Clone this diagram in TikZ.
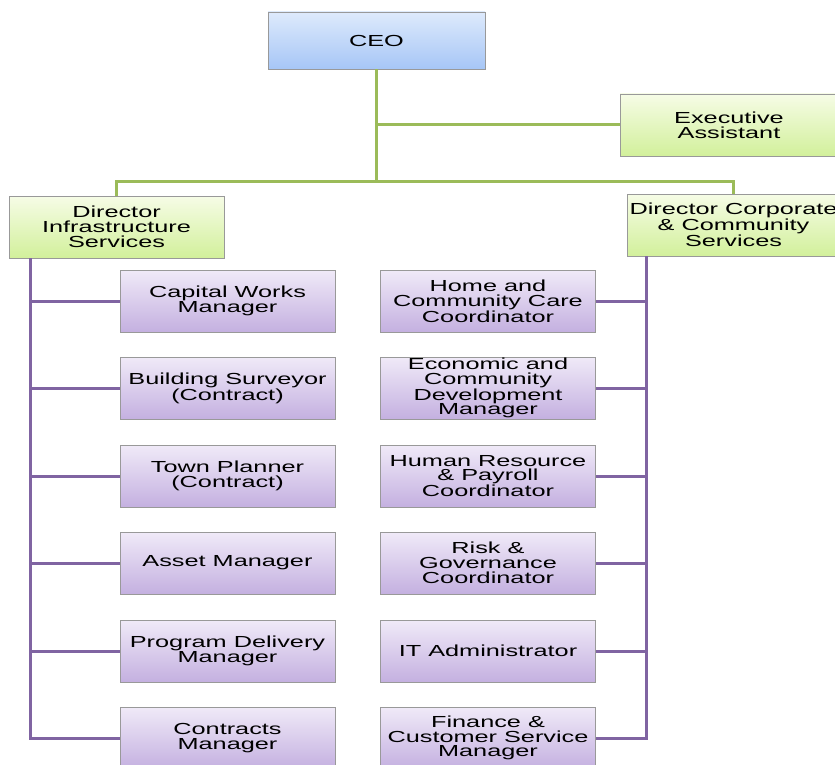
\documentclass[tikz,border=0pt]{standalone}
\usepackage{fontspec}
\newfontfamily\chartfont[FakeStretch=1.58]{Liberation Sans}
\definecolor{TopBlue}{RGB}{222, 234, 252}
\definecolor{BotBlue}{RGB}{166, 198, 246}
\definecolor{TopGreen}{RGB}{246, 252, 230}
\definecolor{BotGreen}{RGB}{210, 240, 155}
\definecolor{TopPurple}{RGB}{240, 234, 248}
\definecolor{BotPurple}{RGB}{196, 176, 224}
\definecolor{LineGreen}{RGB}{155, 187, 89}
\definecolor{LinePurple}{RGB}{128, 100, 162}
\usetikzlibrary{positioning, calc}

\begin{document}
\begin{tikzpicture}[x=1pt, y=-1pt, font=\chartfont\fontsize{16}{14.8}\selectfont,
  box/.style={draw=black!40, line width=0.8pt, align=center, minimum width=215pt, minimum height=62pt, inner sep=0pt, text=black},
  chief/.style={box, top color=TopBlue, bottom color=BotBlue, minimum width=217pt, minimum height=57pt},
  dir/.style={box, top color=TopGreen, bottom color=BotGreen},
  staff/.style={box, top color=TopPurple, bottom color=BotPurple},
  gline/.style={LineGreen, line width=3pt}, pline/.style={LinePurple, line width=3pt}]
\useasboundingbox (0,0) rectangle (835,765);
\clip (0,0) rectangle (835,765);
\node[chief] (ceo) at (376.5,40.5) {CEO};
\node[dir, minimum width=218pt] (ea) at (729,125) {Executive\\Assistant};
\node[dir] (dis) at (116.5,227) {Director\\Infrastructure\\Services};
\node[dir, minimum width=213pt] (dcs) at (733.5,225) {Director Corporate\\\& Community\\Services};
\coordinate (bus) at (376.5,181);
% infrastructure
\node[staff] (cwm) at (227.5,301) {Capital Works\\Manager};
\node[staff] (bsc) at (227.5,388) {Building Surveyor\\(Contract)};
\node[staff] (tpc) at (227.5,476) {Town Planner\\(Contract)};
\node[staff] (asm) at (227.5,563) {Asset Manager};
\node[staff] (pdm) at (227.5,651) {Program Delivery\\Manager};
\node[staff] (ctm) at (227.5,738) {Contracts\\Manager};
% corporate and community
\node[staff] (hcc) at (488,301) {Home and\\Community Care\\Coordinator};
\node[staff] (ecd) at (488,388) {Economic and\\Community\\Development\\Manager};
\node[staff] (hrp) at (488,476) {Human Resource\\\& Payroll\\Coordinator};
\node[staff] (rgc) at (488,563) {Risk \&\\Governance\\Coordinator};
\node[staff] (ita) at (488,651) {IT Administrator};
\node[staff] (fcs) at (488,738) {Finance \&\\Customer Service\\Manager};
\draw[gline] (ceo.south) -- (bus);
\draw[gline] (ceo.south) |- (ea.west);
\draw[gline] (bus) -| (dis.north);
\draw[gline] (bus) -| (dcs.north);
\foreach \n in {cwm, bsc, tpc, asm, pdm, ctm}
  \draw[pline] ([xshift=22pt]dis.south west) |- (\n.west);
\foreach \n in {hcc, ecd, hrp, rgc, ita, fcs}
  \draw[pline] ([xshift=20pt]dcs.south west) |- (\n.east);
\end{tikzpicture}
\end{document}
